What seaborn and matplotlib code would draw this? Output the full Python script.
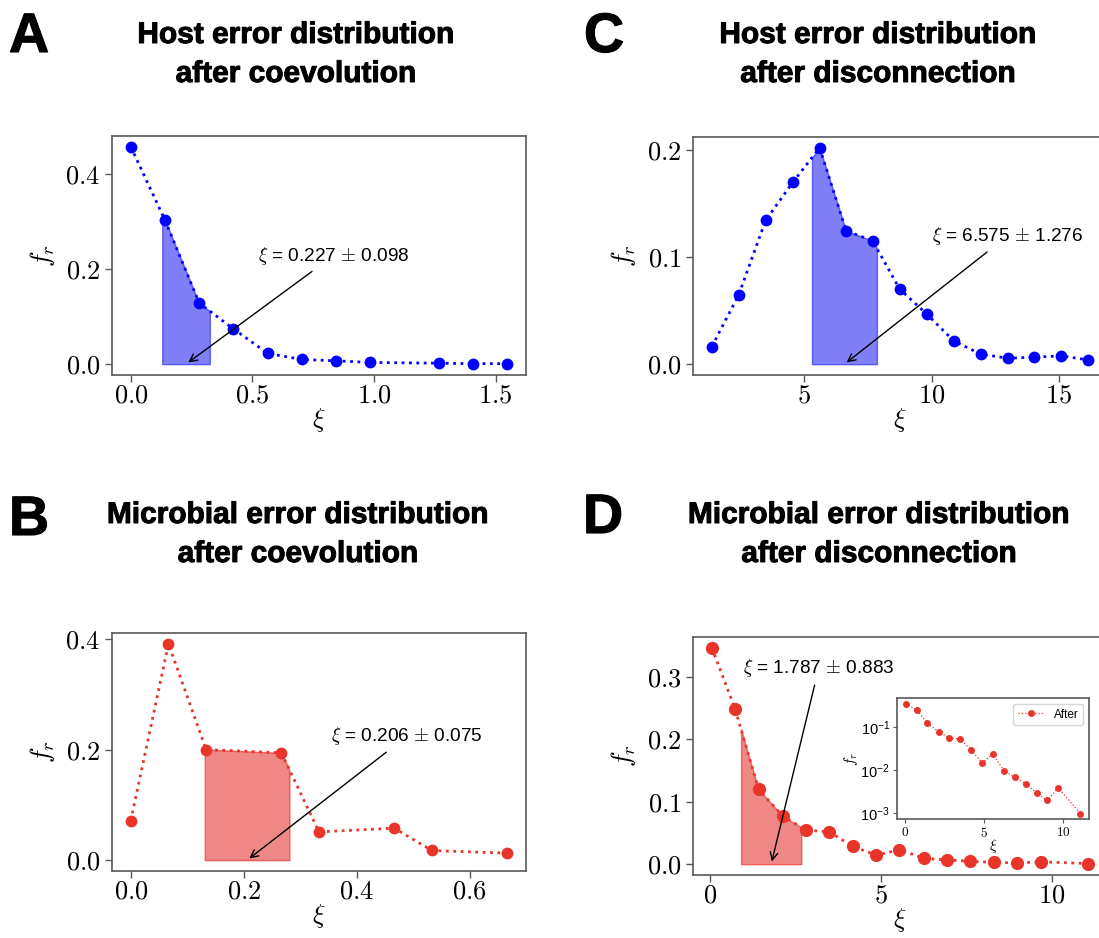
import numpy as np
import pandas as pd
import matplotlib
matplotlib.use("Agg")
import matplotlib.pyplot as plt
import matplotlib.patheffects as pe
import seaborn as sns
from matplotlib.ticker import MultipleLocator, StrMethodFormatter, NullLocator

# ---------------- data ----------------
host_coev_x = [0.0, 0.1407, 0.2814, 0.4221, 0.5628, 0.7035, 0.8442, 0.9849, 1.2663, 1.4070, 1.5477]
host_coev_y = [0.456, 0.302, 0.128, 0.074, 0.0225, 0.0098, 0.007, 0.0035, 0.002, 0.001, 0.001]
host_coev_mean, host_coev_std = 0.227, 0.098

host_disc_x = [1.365, 2.42, 3.48, 4.54, 5.60, 6.64, 7.68, 8.74, 9.80, 10.88, 11.94, 12.99, 14.04, 15.09, 16.15]
host_disc_y = [0.0165, 0.0647, 0.1344, 0.1698, 0.2022, 0.1247, 0.1154, 0.0703, 0.047, 0.0215,
               0.0093, 0.0056, 0.0065, 0.0078, 0.004]
host_disc_mean, host_disc_std = 6.575, 1.276

mic_coev_x = [0.0, 0.0667, 0.1333, 0.2667, 0.3333, 0.4667, 0.5333, 0.6667]
mic_coev_y = [0.0717, 0.391, 0.200, 0.194, 0.0512, 0.0578, 0.0175, 0.0127]
mic_coev_mean, mic_coev_std = 0.206, 0.075

mic_disc_x = [0.049, 0.733, 1.417, 2.12, 2.80, 3.49, 4.17, 4.87, 5.54, 6.26, 6.93, 7.62, 8.31, 9.00, 9.68, 11.07]
mic_disc_y = [0.347, 0.249, 0.120, 0.0774, 0.0547, 0.0518, 0.0288, 0.0144, 0.0232, 0.00947,
              0.00668, 0.00473, 0.00288, 0.00193, 0.0038, 0.00096]
mic_disc_mean, mic_disc_std = 1.787, 0.883

titles = {
    "A": ("Host error distribution", "after coevolution"),
    "C": ("Host error distribution", "after disconnection"),
    "B": ("Microbial error distribution", "after coevolution"),
    "D": ("Microbial error distribution", "after disconnection"),
}

BLUE = "#0000ff"
RED = "#e9342a"
FILL_BLUE = "#0000f0"
FILL_RED = "#e0100a"

# ---------------- style ----------------
sns.set_theme(style="ticks")
plt.rcParams["font.family"] = ["Liberation Sans", "DejaVu Sans"]
plt.rcParams["mathtext.fontset"] = "cm"
plt.rcParams["text.color"] = "black"
plt.rcParams["axes.labelcolor"] = "black"
plt.rcParams["axes.edgecolor"] = "0.35"
plt.rcParams["axes.linewidth"] = 1.2
plt.rcParams["xtick.color"] = "0.35"
plt.rcParams["ytick.color"] = "0.35"
plt.rcParams["xtick.labelcolor"] = "black"
plt.rcParams["ytick.labelcolor"] = "black"

W, H = 1099, 938
fig = plt.figure(figsize=(W / 100, H / 100), dpi=100)


def px_axes(x0, y0, x1, y1):
    return fig.add_axes([x0 / W, 1 - y1 / H, (x1 - x0) / W, (y1 - y0) / H])


def panel(ax, xs, ys, mean, std, color, fcolor, xstep, ystep, xfmt, txt_pos, msize=8.5):
    df = pd.DataFrame({"xi": xs, "fr": ys})
    sns.lineplot(data=df, x="xi", y="fr", ax=ax, color=color, marker="o",
                 markersize=msize, markeredgewidth=0, linestyle=":", linewidth=2)
    grid = np.linspace(mean - std, mean + std, 300)
    ax.fill_between(grid, np.interp(grid, xs, ys), 0, color=fcolor, alpha=0.5, linewidth=1)
    ax.annotate(r"$\xi$ = %.3f $\pm$ %.3f" % (mean, std), xy=(mean, 0), xytext=txt_pos,
                ha="center", va="center", fontsize=13.7,
                arrowprops=dict(arrowstyle="->", color="black", lw=1))
    ax.xaxis.set_major_locator(MultipleLocator(xstep))
    ax.yaxis.set_major_locator(MultipleLocator(ystep))
    ax.xaxis.set_major_formatter(StrMethodFormatter("$" + xfmt + "$"))
    ax.yaxis.set_major_formatter(StrMethodFormatter("${x:.1f}$"))
    ax.tick_params(labelsize=19, length=5, width=1)
    ax.tick_params(axis="x", pad=1)
    ax.set_xlabel(r"$\xi$", fontsize=19, labelpad=-1)
    ax.set_ylabel(r"$f_r$", fontsize=19, labelpad=6)
    for s in ax.spines.values():
        s.set_visible(True)


axA = px_axes(112, 136, 526, 375)
panel(axA, host_coev_x, host_coev_y, host_coev_mean, host_coev_std, BLUE, FILL_BLUE, 0.5, 0.2,
      "{x:.1f}", (0.834, 0.228))

axC = px_axes(693, 137, 1107, 375)
panel(axC, host_disc_x, host_disc_y, host_disc_mean, host_disc_std, BLUE, FILL_BLUE, 5, 0.1,
      "{x:.0f}", (12.98, 0.1198))

axB = px_axes(112, 633, 526, 871)
panel(axB, mic_coev_x, mic_coev_y, mic_coev_mean, mic_coev_std, RED, FILL_RED, 0.2, 0.2,
      "{x:.1f}", (0.489, 0.224))

axD = px_axes(693, 637, 1107, 875)
panel(axD, mic_disc_x, mic_disc_y, mic_disc_mean, mic_disc_std, RED, FILL_RED, 5, 0.1,
      "{x:.0f}", (3.18, 0.3145), msize=9.5)

# inset
axI = px_axes(897, 698, 1089, 819)
dfi = pd.DataFrame({"xi": mic_disc_x, "fr": mic_disc_y})
sns.lineplot(data=dfi, x="xi", y="fr", ax=axI, color=RED, marker="o", markersize=5,
             markeredgewidth=0, linestyle=":", linewidth=0.9, label="After")
axI.set_yscale("log")
axI.yaxis.set_minor_locator(NullLocator())
axI.xaxis.set_major_locator(MultipleLocator(5))
axI.xaxis.set_major_formatter(StrMethodFormatter("${x:.0f}$"))
axI.tick_params(length=3, width=0.8, pad=2)
axI.tick_params(axis="x", labelsize=9.5)
axI.tick_params(axis="y", labelsize=10.5)
axI.set_xlabel(r"$\xi$", fontsize=11, labelpad=-2)
axI.set_ylabel(r"$f_r$", fontsize=11, labelpad=0)
axI.legend(loc="upper right", fontsize=8.5, frameon=True, handlelength=2.2)
for s in axI.spines.values():
    s.set_visible(True)

# titles and panel letters
title_kw = dict(ha="center", va="baseline", fontsize=21.5, fontweight="bold",
                color="black", path_effects=[pe.withStroke(linewidth=0.7, foreground="black")])
for key, cx, b1, b2 in [("A", 296, 43, 82), ("C", 878, 43, 82),
                        ("B", 298, 523, 562), ("D", 879, 523, 562)]:
    l1, l2 = titles[key]
    fig.text(cx / W, 1 - b1 / H, l1, **title_kw)
    fig.text(cx / W, 1 - b2 / H, l2, **title_kw)

letter_kw = dict(ha="left", va="baseline", fontsize=40, fontweight="bold",
                 color="black", path_effects=[pe.withStroke(linewidth=0.8, foreground="black")])
for key, x, b in [("A", 9, 52), ("C", 584, 52), ("B", 9, 535), ("D", 583, 533)]:
    fig.text(x / W, 1 - b / H, key, **letter_kw)

fig.savefig("out.png", dpi=100)
